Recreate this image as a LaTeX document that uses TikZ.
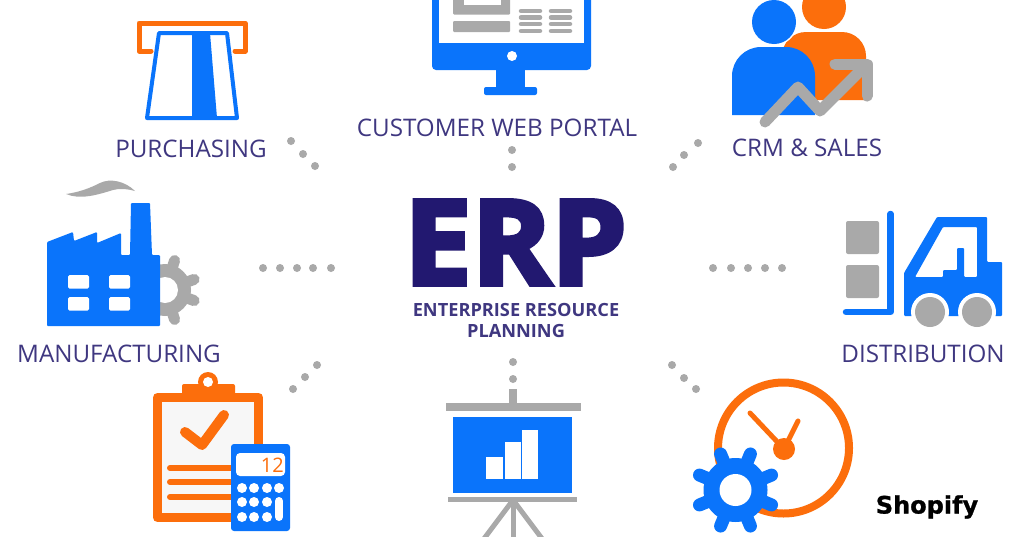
\documentclass[tikz,border=0pt]{standalone}
\usepackage{fontspec}
\setmainfont{Open Sans}
\newfontfamily\erpfont{Open Sans}[BoldFeatures={FakeBold=4}]
\newfontfamily\shopfont{DejaVu Sans}[BoldFeatures={FakeBold=1}]
\usepackage{tikz}
\usetikzlibrary{calc,positioning}
\definecolor{erpblue}{HTML}{0A74FB}
\definecolor{erporange}{HTML}{FC6E0C}
\definecolor{erpgray}{HTML}{A9A9A9}
\definecolor{erpink}{HTML}{3F3780}
\definecolor{erpdark}{HTML}{221870}

\begin{document}
\begin{tikzpicture}
[x=1pt,y=-1pt,
label/.style={inner sep=0pt,text=erpink,font=\fontsize{24.2}{24.2}\selectfont},
sublabel/.style={inner sep=0pt,text=erpink,font=\fontsize{18.2}{18.2}\selectfont\bfseries},
dot/.style={fill=erpgray},
bar/.style={line width=5pt,line cap=round,line join=round}]
\useasboundingbox (0,0) rectangle (1024,536);
\clip (0,0) rectangle (1024,536);
\fill[white] (0,0) rectangle (1024,536);

% dots
\foreach \x/\y in {291/141,303/154,315/166,512/150,512/167,673/167,684/155,698/143,
	263/268,280/268,297/268,313/268,331/268,713/268,731/268,748/268,765/268,782/268,
	293/389,305/377,317/365,513/362,513/379,672/365,684/378,696/389}
{
	\fill[dot] (\x,\y) circle[radius=4];
};

% purchasing
\draw[bar,erporange] (151,51) -- (139,51) -- (139,23) -- (245,23) -- (245,51) -- (235,51);
\fill[erpblue] (192,33) -- (210,33) -- (217,118) -- (192,118) -- cycle;
\draw[erpblue,line width=4pt,line join=round,fill=none] (159,33) -- (227,33) -- (237,118) -- (147,118) -- cycle;
\node[label] (purchasing) at (191,148.5) {PURCHASING};

% web portal
\fill[erpblue,rounded corners=4pt] (432,-20) rectangle (591,70);
\fill[white] (439,-20) rectangle (584,43);
\fill[erpgray,rounded corners=1pt] (453,-5) rectangle (510,14.5);
\fill[white] (464,-5) rectangle (501,5);
\fill[erpgray,rounded corners=1pt] (453,21) rectangle (510,32);
\foreach \y in {11,17.5,24,31}
{
	\draw[erpgray,line width=4.5pt,line cap=round] (521,\y) -- (540,\y);
	\draw[erpgray,line width=4.5pt,line cap=round] (551,\y) -- (570,\y);
};
\fill[white] (512,56) circle[radius=5];
\fill[erpblue] (496,68) rectangle (525,90);
\fill[erpblue,rounded corners=2pt] (484,87) rectangle (537,95);
\node[label] (portal) at (497,127.5) {CUSTOMER WEB PORTAL};

% crm
\fill[erporange] (824,7) circle[radius=22];
\fill[erporange] (782,100) [rounded corners=24pt] -- (782,32) -- (866,32) [sharp corners] -- (866,100) -- cycle;
\fill[white] (774,22) circle[radius=23.5];
\fill[erpblue] (774,22) circle[radius=22];
\fill[erpblue] (732,115) [rounded corners=29pt] -- (732,47) -- (815,47) [sharp corners] -- (815,115) -- cycle;
\draw[erpgray,line width=11pt,line cap=round,line join=round] (765,122) -- (798,87) -- (820,111) -- (862,69);
\draw[erpgray,line width=11pt,line cap=round,line join=round] (835,64) -- (867,64) -- (867,96);
\node[label] (crm) at (807,147.5) {CRM \& SALES};

% manufacturing
\foreach \a in {20,72,124,180,-124,-72,-20}
{
	\draw[erpgray,line width=11pt,line cap=round,shift={(165,290)}] (0,0) -- (\a:31);
};
\fill[erpgray] (165,290) circle[radius=26];
\fill[white] (165,290) circle[radius=13];
\fill[erpgray] (66,194) .. controls (80,200) and (97,195) .. (113,190) .. controls (120,188) and (128,189) .. (135,191)
	.. controls (125,181) and (110,178) .. (100,183) .. controls (90,188) and (80,192) .. cycle;
\fill[erpblue,rounded corners=1pt] (47,242) -- (73,232) -- (74,241) -- (97,232) -- (97,243) -- (121,233) -- (121,255)
	-- (130,255) -- (131,203) -- (150,203) -- (152,255) -- (160,255) -- (160,326) -- (47,326) -- cycle;
\foreach \x in {68,109}
{
	\foreach \y in {275,297}
	{
		\fill[white,rounded corners=1.5pt] (\x,\y) rectangle ++(21,13.5);
	};
};
\node[label] (manufacturing) at (119,353.5) {MANUFACTURING};

% distribution
\fill[erpgray,rounded corners=2pt] (846,221) rectangle (879,254);
\fill[erpgray,rounded corners=2pt] (846,265) rectangle (879,298);
\draw[erpblue,line width=6.5pt,line cap=round,line join=round] (890.5,214) -- (890.5,312) -- (846,312);
\fill[erpblue,even odd rule,rounded corners=1pt] (904,273) -- (937,217) -- (987,217) -- (987,262) -- (1002,262) -- (1002,316)
	-- (904,316) -- cycle
	(915,277) -- (943,227) -- (977,227) -- (977,277) -- (964,277) -- (964,248) -- (957,248) -- (957,270) -- (943,270) -- (943,277) -- cycle;
\foreach \x in {930,977}
{
	\fill[white] (\x,312) circle[radius=19];
};
\fill[white] (910,316.5) rectangle (997,330);
\foreach \x in {930,977}
{
	\fill[erpgray] (\x,312) circle[radius=15];
};
\node[label] (distribution) at (923,353.5) {DISTRIBUTION};

% accounting
\draw[erporange,line width=9pt,line join=round,fill=white!97!black] (157.5,397.5) rectangle (258.5,517.5);
\fill[erporange,rounded corners=2pt] (182,384) rectangle (235,395);
\fill[erporange] (208,382) circle[radius=10];
\fill[white] (208,382) circle[radius=5];
\draw[erporange,line width=10pt,line cap=round,line join=round] (185,432) -- (202,445) -- (224,415);
\foreach \y in {468,482,497}
{
	\draw[erporange,line width=6pt,line cap=round] (170,\y) -- (240,\y);
};
\fill[erpblue,rounded corners=3pt] (231,444) rectangle (290,531);
\fill[white,rounded corners=4pt] (236,453) rectangle (285,476);
\node[inner sep=0pt,text=erporange,font=\fontsize{20}{20}\selectfont,anchor=east] (display) at (284,465) {12};
\foreach \x/\y in {242/488,254/488,267/488,279/488,242/502,254/502,267/502,242/517,254/517,267/517}
{
	\fill[white] (\x,\y) circle[radius=5];
};
\draw[white,line width=8pt,line cap=round] (279,501) -- (279,517);

% reporting
\fill[erpgray] (509,389) rectangle (517,405);
\fill[erpgray] (446,403) rectangle (581,411);
\fill[erpblue] (453,417) rectangle (572,493);
\fill[erpgray] (448,497) rectangle (577,502);
\draw[erpgray,line width=5pt] (513,500) -- (513,540);
\draw[erpgray,line width=5pt] (513,500) -- (483,540);
\draw[erpgray,line width=5pt] (513,500) -- (543,540);
\fill[white] (486,457) rectangle (503,479);
\fill[white] (505,442) rectangle (521,479);
\fill[white] (522,430) rectangle (538,479);

% clock
\draw[erporange,line width=8pt] (783.5,448) circle[radius=65.5];
\fill[erporange] (784,449) circle[radius=11];
\draw[bar,erporange] (750,413) -- (784,449) -- (798,421);
\foreach \a in {22.5,67.5,...,337.5}
{
	\draw[erpblue,line width=13pt,line cap=round,shift={(735.5,490)}] (0,0) -- (\a:39);
};
\fill[erpblue] (735.5,490) circle[radius=32];
\fill[white] (735.5,490) circle[radius=16];

% centre
\node[inner sep=0pt,text=erpdark,font=\fontsize{118}{118}\erpfont\bfseries] (erp) at (515.5,242.5) {\scalebox{1.02}[1]{ERP}};
\node[sublabel] (enterprise) at (516,309.5) {ENTERPRISE RESOURCE};
\node[sublabel] (planning) at (516,330.5) {PLANNING};

% watermark
\node[inner sep=0pt,text=black,font=\fontsize{24}{24}\shopfont\bfseries] (shopify) at (927,507) {Shopify};
\end{tikzpicture}
\end{document}
